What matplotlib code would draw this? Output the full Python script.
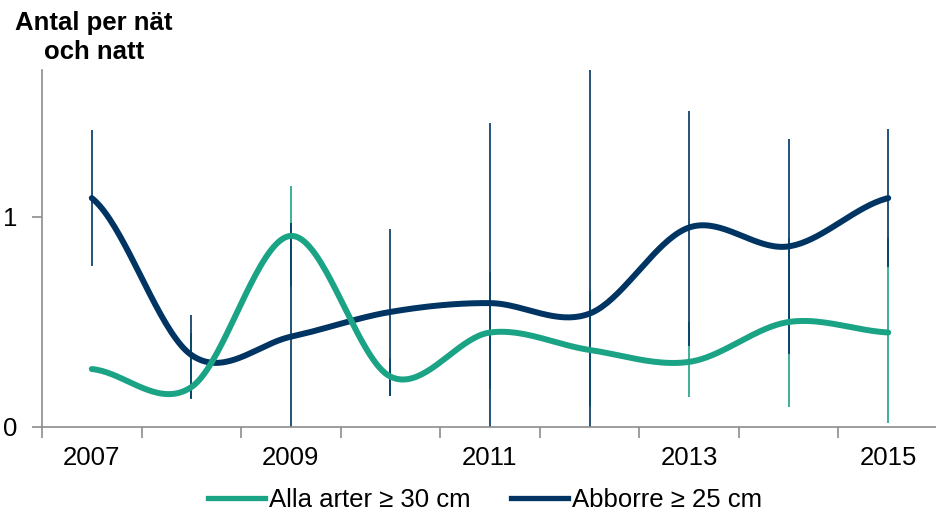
import numpy as np
import matplotlib
matplotlib.use("Agg")
import matplotlib.pyplot as plt

plt.rcParams['font.family'] = ['Liberation Sans', 'DejaVu Sans']

years = [2007, 2008, 2009, 2010, 2011, 2012, 2013, 2014, 2015]
tick_years = [2007, 2009, 2011, 2013, 2015]
series_names = ["Alla arter \u2265 30 cm", "Abborre \u2265 25 cm"]

alla = [0.276, 0.19, 0.91, 0.24, 0.45, 0.367, 0.31, 0.50, 0.45]
alla_lo = [np.nan, 0.14, 0.67, 0.15, 0.18, 0.10, 0.143, 0.095, 0.02]
alla_hi = [np.nan, 0.45, 1.148, 0.33, 0.74, 0.65, 0.50, 0.90, 0.90]

abborre = [1.09, 0.343, 0.43, 0.548, 0.59, 0.54, 0.95, 0.86, 1.09]
abborre_lo = [0.767, 0.133, 0.0, 0.148, 0.0, 0.0, 0.386, 0.35, 0.76]
abborre_hi = [1.414, 0.533, 0.97, 0.943, 1.448, 1.75, 1.505, 1.37, 1.42]

GREEN = "#1BA385"
NAVY = "#003463"
GRAY = "#8C8C8C"


def smooth(x, y, n=40):
    """Bezier smoothing through the points (like Excel smoothed lines)."""
    x = np.asarray(x, float)
    y = np.asarray(y, float)
    px = np.concatenate([[2 * x[0] - x[1]], x, [2 * x[-1] - x[-2]]])
    py = np.concatenate([[y[0]], y, [y[-1]]])
    xs, ys = [], []
    for i in range(1, len(px) - 2):
        p0, p1, p2, p3 = py[i - 1], py[i], py[i + 1], py[i + 2]
        x0, x1, x2, x3 = px[i - 1], px[i], px[i + 1], px[i + 2]
        t = np.linspace(0, 1, n)
        c1y = p1 + (p2 - p0) / 6
        c2y = p2 - (p3 - p1) / 6
        c1x = x1 + (x2 - x0) / 6
        c2x = x2 - (x3 - x1) / 6
        bx = (1 - t) ** 3 * x1 + 3 * (1 - t) ** 2 * t * c1x + 3 * (1 - t) * t ** 2 * c2x + t ** 3 * x2
        by = (1 - t) ** 3 * p1 + 3 * (1 - t) ** 2 * t * c1y + 3 * (1 - t) * t ** 2 * c2y + t ** 3 * p2
        xs.append(bx)
        ys.append(by)
    return np.concatenate(xs), np.concatenate(ys)


fig = plt.figure(figsize=(9.36, 5.12), dpi=100)
ax = fig.add_axes([42 / 936, 85 / 512, 896 / 936, 357 / 512])

ax.vlines(years, alla_lo, alla_hi, color=GREEN, lw=1.2, zorder=1)
ax.vlines(years, abborre_lo, abborre_hi, color=NAVY, lw=1.2, zorder=2)

gx, gy = smooth(years, alla)
bx, by = smooth(years, abborre)
ax.plot(bx, by, color=NAVY, lw=4.3, solid_capstyle='round', zorder=3, label=series_names[1])
ax.plot(gx, gy, color=GREEN, lw=4.3, solid_capstyle='round', zorder=4, label=series_names[0])

ax.set_xlim(2006.5, 2015.5)
ax.set_ylim(0, 1.7)

for s in ['top', 'right']:
    ax.spines[s].set_visible(False)
for s in ['left', 'bottom']:
    ax.spines[s].set_color(GRAY)
    ax.spines[s].set_linewidth(1.2)

ax.set_yticks([0, 1])
ax.set_yticklabels(["0", "1"])
ax.set_xticks(tick_years)
ax.set_xticklabels([str(y) for y in tick_years])
ax.set_xticks(np.arange(2006.5, 2016, 1.0), minor=True)
ax.tick_params(axis='x', which='major', length=0, pad=13.5, labelsize=18.5)
ax.tick_params(axis='x', which='minor', length=8, width=1.2, color=GRAY, direction='out')
ax.tick_params(axis='y', length=7, width=1.2, color=GRAY, pad=11, labelsize=18.5)

fig.text(94 / 936, 1 - 11 / 512, "Antal per n\u00e4t\noch natt", ha='center', va='top',
         fontsize=18.5, fontweight='bold', linespacing=1.27)

handles = [plt.Line2D([], [], color=GREEN, lw=3.8), plt.Line2D([], [], color=NAVY, lw=3.8)]
fig.legend(handles, series_names, loc='center', bbox_to_anchor=(485 / 936, 1 - 500 / 512),
           ncol=2, frameon=False, fontsize=18.5, handlelength=2.2, handletextpad=0.15,
           columnspacing=1.6, borderpad=0, borderaxespad=0)

fig.savefig("out.png", dpi=100)
